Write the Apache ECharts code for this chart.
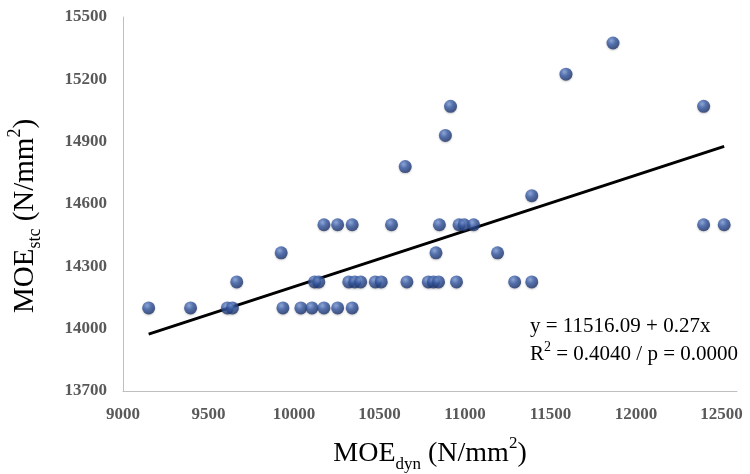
<!DOCTYPE html>
<html>
<head>
<meta charset="utf-8">
<script src="https://cdn.jsdelivr.net/npm/echarts@6/dist/echarts.min.js"></script>
<style>
  html, body { margin: 0; padding: 0; background: #fff; }
  #chart { width: 750px; height: 474px; }
</style>
</head>
<body>
<div id="chart"></div>
<script>
// MOE dynamic (x) and static (y)
var moeDyn = [9150, 9395, 9610, 9640, 9665, 9925, 9935, 10040, 10105, 10120, 10145, 10175, 10175,
  10255, 10255, 10320, 10340, 10340, 10355, 10390, 10475, 10510, 10570, 10650, 10660, 10785,
  10815, 10830, 10845, 10850, 10885, 10915, 10950, 10965, 10995, 11050, 11190, 11290, 11390,
  11390, 11590, 11865, 12395, 12395, 12515];
var moeStc = [14100, 14100, 14100, 14100, 14225, 14365, 14100, 14100, 14100, 14225, 14225, 14100, 14500,
  14100, 14500, 14225, 14100, 14500, 14225, 14225, 14225, 14225, 14500, 14780, 14225, 14225,
  14225, 14365, 14225, 14500, 14930, 15070, 14225, 14500, 14500, 14500, 14365, 14225, 14225,
  14640, 15225, 15375, 15070, 14500, 14500];

// fitted line (label shows 0.27, unrounded slope is a bit lower)
var intercept = 11516.09;
var slope = 0.2686;
var eqLines = ['y = 11516.09 + 0.27x', ' = 0.4040 / p = 0.0000'];

var points = moeDyn.map(function (x, i) { return [x, moeStc[i]]; });
var xMin = Math.min.apply(null, moeDyn), xMax = Math.max.apply(null, moeDyn);
var fitLine = [[xMin, intercept + slope * xMin], [xMax, intercept + slope * xMax]];

var serif = '"Liberation Serif", "Times New Roman", serif';
var tickLabel = {
  color: '#595959', fontFamily: serif, fontWeight: 'bold', fontSize: 17,
  formatter: function (v) { return String(v); }
};

var chart = echarts.init(document.getElementById('chart'));
chart.setOption({
  animation: false,
  grid: { left: 123, right: 13, top: 17, bottom: 83, containLabel: false, outerBoundsMode: 'none' },
  xAxis: {
    type: 'value', min: 9000, max: 12590, interval: 500,
    axisLine: { show: true, lineStyle: { color: '#bfbfbf', width: 1 } },
    axisTick: { show: false },
    splitLine: { show: false },
    axisLabel: Object.assign({ margin: 15, showMaxLabel: false }, tickLabel),
    name: '{b|MOE}{sub|dyn}{b| (N/mm}{sup|2}{b|)}',
    nameLocation: 'middle', nameGap: 44,
    nameTextStyle: {
      rich: {
        b: { fontFamily: serif, fontSize: 28, color: '#000', lineHeight: 38 },
        sub: { fontFamily: serif, fontSize: 17, color: '#000', lineHeight: 17, verticalAlign: 'bottom' },
        sup: { fontFamily: serif, fontSize: 17, color: '#000', lineHeight: 17, verticalAlign: 'top' }
      }
    }
  },
  yAxis: {
    type: 'value', min: 13700, max: 15500, interval: 300,
    axisLine: { show: true, lineStyle: { color: '#bfbfbf', width: 1 } },
    axisTick: { show: false },
    splitLine: { show: false },
    axisLabel: Object.assign({ margin: 16 }, tickLabel),
    name: '{b|MOE}{sub|stc}{b| (N/mm}{sup|2}{b|)}',
    nameLocation: 'middle', nameGap: 79, nameRotate: 90,
    nameTextStyle: {
      padding: [0, 24, 0, 0],
      rich: {
        b: { fontFamily: serif, fontSize: 29, color: '#000', lineHeight: 38 },
        sub: { fontFamily: serif, fontSize: 18, color: '#000', lineHeight: 18, verticalAlign: 'bottom' },
        sup: { fontFamily: serif, fontSize: 18, color: '#000', lineHeight: 18, verticalAlign: 'top' }
      }
    }
  },
  series: [
    {
      type: 'scatter',
      data: points,
      symbolSize: 13,
      itemStyle: {
        color: {
          type: 'radial', x: 0.38, y: 0.32, r: 0.7,
          colorStops: [
            { offset: 0, color: '#7f9dd8' },
            { offset: 0.45, color: '#3558a3' },
            { offset: 1, color: '#1a3066' }
          ]
        },
        shadowBlur: 2, shadowColor: 'rgba(0,0,0,0.25)', shadowOffsetY: 1
      },
      z: 3
    },
    {
      type: 'line',
      data: fitLine,
      symbol: 'none',
      lineStyle: { color: '#000', width: 3 },
      z: 2
    }
  ],
  graphic: [
    {
      type: 'text', left: 530, top: 316,
      style: {
        text: '{a|' + eqLines[0] + '}\n{a|R}{sup|2}{a|' + eqLines[1] + '}',
        rich: {
          a: { fontFamily: serif, fontSize: 21, color: '#000', lineHeight: 28 },
          sup: { fontFamily: serif, fontSize: 14, color: '#000', lineHeight: 20, verticalAlign: 'top' }
        }
      }
    }
  ]
});
</script>
</body>
</html>
